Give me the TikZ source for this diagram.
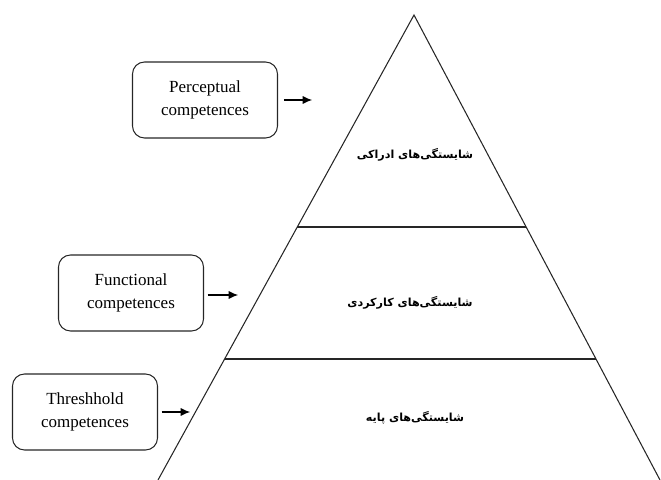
\documentclass[tikz,border=0pt]{standalone}
\usepackage{fontspec}
\setmainfont{Liberation Serif}
\newfontfamily\farsi[Script=Arabic]{DejaVu Sans}
\TeXXeTstate=1
\usetikzlibrary{arrows.meta,calc}
\tikzset{
	compbox/.style={draw=black!85,line width=0.9pt,rounded corners=0.36cm,minimum width=4.35cm,minimum height=2.28cm,align=center,font=\fontsize{14.5}{20}\selectfont},
	layertext/.style={font=\farsi\bfseries\fontsize{9.5}{11}\selectfont},
	toarrow/.style={-{Latex[length=8pt,width=7pt]},line width=0.9pt}
}
\begin{document}
\begin{tikzpicture}[x=0.03cm,y=-0.03cm]
		\useasboundingbox (0,0) rectangle (661,480);
		\coordinate (apex) at (414,15);
		\coordinate (bl) at (158,480);
		\coordinate (br) at (660,480);
		\draw[black!85,line width=0.9pt] (bl) -- (apex) -- (br);
		\draw[black!85,line width=1pt] ($(apex)!0.456!(bl)$) -- ($(apex)!0.456!(br)$);
		\draw[black!85,line width=1.2pt] ($(apex)!0.74!(bl)$) -- ($(apex)!0.74!(br)$);
		\node[layertext] (perceptual) at (415,155) {\beginR شایستگی‌های ادراکی\endR};
		\node[layertext] (functional) at (410,303) {\beginR شایستگی‌های کارکردی\endR};
		\node[layertext] (threshold) at (415,418) {\beginR شایستگی‌های پایه\endR};
		\node[compbox] (percbox) at (205,100) {Perceptual\\competences};
		\node[compbox] (funcbox) at (131,293) {Functional\\competences};
		\node[compbox] (thrbox) at (85,412) {Threshhold\\competences};
		\coordinate (perctip) at (312,100);
		\coordinate (functip) at (238,295);
		\coordinate (thrtip) at (190,412);
		\draw[toarrow] ([xshift=5]percbox.east) -- (perctip);
		\draw[toarrow] ([xshift=3]funcbox.east |- functip) -- (functip);
		\draw[toarrow] ([xshift=3]thrbox.east) -- (thrtip);
  \end{tikzpicture}
\end{document}
